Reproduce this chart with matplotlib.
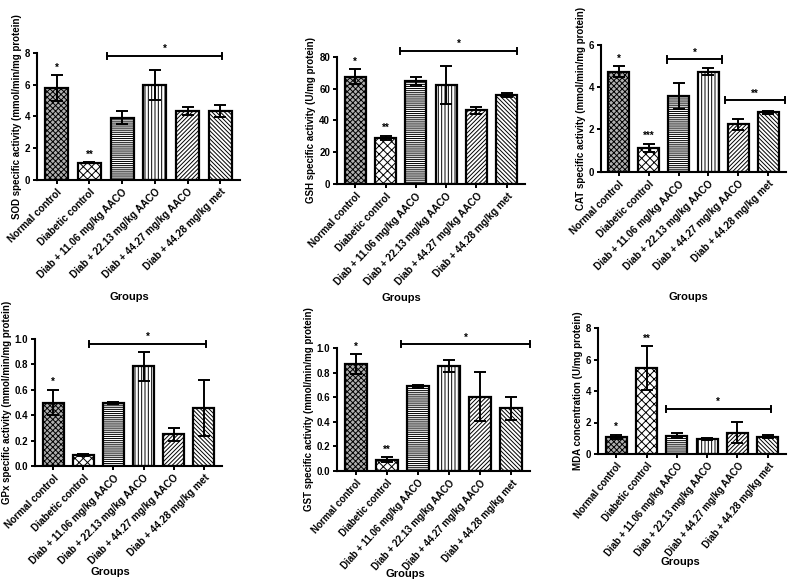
import matplotlib
matplotlib.use("Agg")
import matplotlib.pyplot as plt
import numpy as np

plt.rcParams['font.family'] = ['Liberation Sans', 'DejaVu Sans']
plt.rcParams['font.weight'] = 'bold'
plt.rcParams['hatch.linewidth'] = 0.7

groups = ['Normal control', 'Diabetic control', 'Diab + 11.06 mg/kg AACO',
          'Diab + 22.13 mg/kg AACO', 'Diab + 44.27 mg/kg AACO', 'Diab + 44.28 mg/kg met']

# means and error (SD) per panel
sod = [5.76, 1.08, 3.92, 5.97, 4.33, 4.33]
sod_err = [0.82, 0.04, 0.41, 0.93, 0.26, 0.39]
gsh = [67.4, 28.9, 64.7, 62.4, 46.3, 55.9]
gsh_err = [4.6, 1.5, 2.5, 12.0, 2.3, 1.0]
cat = [4.74, 1.12, 3.59, 4.74, 2.24, 2.81]
cat_err = [0.26, 0.21, 0.61, 0.16, 0.26, 0.06]
gpx = [0.50, 0.087, 0.497, 0.784, 0.25, 0.46]
gpx_err = [0.10, 0.005, 0.005, 0.116, 0.05, 0.22]
gst = [0.87, 0.093, 0.687, 0.855, 0.605, 0.51]
gst_err = [0.08, 0.02, 0.012, 0.048, 0.2, 0.095]
mda = [1.1, 5.46, 1.17, 0.96, 1.36, 1.1]
mda_err = [0.13, 1.38, 0.18, 0.07, 0.65, 0.09]

sod_stars = ['*', '**', '', '', '', '']
gsh_stars = ['*', '**', '', '', '', '']
cat_stars = ['*', '***', '', '', '', '']
gpx_stars = ['*', '', '', '', '', '']
gst_stars = ['*', '**', '', '', '', '']
mda_stars = ['*', '**', '', '', '', '']

# significance brackets: (from, to, height, label)
sod_sig = [(1.55, 5.05, 7.8, '*')]
gsh_sig = [(1.48, 5.33, 83.5, '*')]
cat_sig = [(1.62, 3.47, 5.32, '*'), (3.54, 5.55, 3.38, '**')]
gpx_sig = [(1.2, 5.06, 0.96, '*')]
gst_sig = [(1.45, 5.6, 1.03, '*')]
mda_sig = [(1.63, 5.1, 2.86, '*')]

ylabels = ['SOD specific activity (mmol/min/mg protein)',
           'GSH specific activity (U/mg protein)',
           'CAT specific activity (mmol/min/mg protein)',
           'GPx specific activity (mmol/min/mg protein)',
           'GST specific activity (mmol/min/mg protein)',
           'MDA concentration (U/mg protein)']

faces = ['#b0b0b0', 'white', 'white', 'white', 'white', 'white']
hatches = ['xxxxxx', 'xxxx', '--------', '|||||', '////////', '\\\\\\\\\\\\\\\\']

W, H = 789, 580
fig = plt.figure(figsize=(W / 100, H / 100), dpi=100)

# pixel boxes: left, right, bottom(y0), top(ymax)
boxes = [(37, 240, 180, 52.7), (337, 525, 184, 56.7), (601, 786, 171.7, 45),
         (35, 222, 466, 339), (337, 530, 471, 348), (598, 786, 454, 328)]
ylims = [(0, 8), (0, 80), (0, 6), (0, 1.0), (0, 1.0), (0, 8)]
yticks = [np.arange(0, 9, 2), np.arange(0, 81, 20), np.arange(0, 7, 2),
          np.arange(0, 1.01, 0.2), np.arange(0, 1.01, 0.2), np.arange(0, 9, 2)]
groups_pos = [(129, 297), (401, 298), (688, 297), (110, 572), (405, 574), (680, 562)]
rot = [45, 47, 45, 45, 48, 51]
tick_fs = [7.2, 7.2, 7.2, 7.2, 6.9, 6.9]

data = [(sod, sod_err, sod_stars, sod_sig), (gsh, gsh_err, gsh_stars, gsh_sig),
        (cat, cat_err, cat_stars, cat_sig), (gpx, gpx_err, gpx_stars, gpx_sig),
        (gst, gst_err, gst_stars, gst_sig), (mda, mda_err, mda_stars, mda_sig)]

x = np.arange(len(groups))
for i, (vals, errs, stars, sigs) in enumerate(data):
    l, r, b, t = boxes[i]
    ax = fig.add_axes([l / W, 1 - b / H, (r - l) / W, (b - t) / H])
    for k in range(len(groups)):
        ax.bar(x[k], vals[k], width=0.7, color=faces[k], edgecolor='black',
               linewidth=1.6, hatch=hatches[k], zorder=2)
    ax.errorbar(x, vals, yerr=errs, fmt='none', ecolor='black', elinewidth=1.4,
                capsize=4.5, capthick=1.4, zorder=3)
    span = ylims[i][1] - ylims[i][0]
    for k in range(len(groups)):
        if stars[k]:
            ax.text(x[k], vals[k] + errs[k] + span * 0.02, stars[k], ha='center',
                    va='bottom', fontsize=7)
    for x1, x2, yy, lab in sigs:
        ax.plot([x1, x2], [yy, yy], color='black', lw=1.4, clip_on=False)
        for xe in (x1, x2):
            ax.plot([xe, xe], [yy - span * 0.025, yy + span * 0.025], color='black',
                    lw=1.4, clip_on=False)
        ax.text((x1 + x2) / 2, yy + span * 0.015, lab, ha='center', va='bottom',
                fontsize=7)
    ax.set_xlim(-0.6, 5.6)
    ax.set_ylim(*ylims[i])
    ax.set_yticks(yticks[i])
    if ylims[i][1] <= 1.0:
        ax.set_yticklabels(['%.1f' % v for v in yticks[i]])
    ax.set_xticks(x)
    ax.set_xticklabels(groups, rotation=rot[i], ha='right', rotation_mode='anchor',
                       fontsize=tick_fs[i], fontweight='bold')
    ax.tick_params(axis='y', labelsize=7, width=1.4, length=3, pad=2)
    ax.tick_params(axis='x', width=1.4, length=3, pad=2)
    for s in ('top', 'right'):
        ax.spines[s].set_visible(False)
    for s in ('left', 'bottom'):
        ax.spines[s].set_linewidth(1.5)
    ax.set_ylabel(ylabels[i], fontsize=7, fontweight='bold', labelpad=2)
    gx, gy = groups_pos[i]
    fig.text(gx / W, 1 - gy / H, 'Groups', ha='center', va='center', fontsize=8,
             fontweight='bold')

fig.savefig('out.png', dpi=100)
